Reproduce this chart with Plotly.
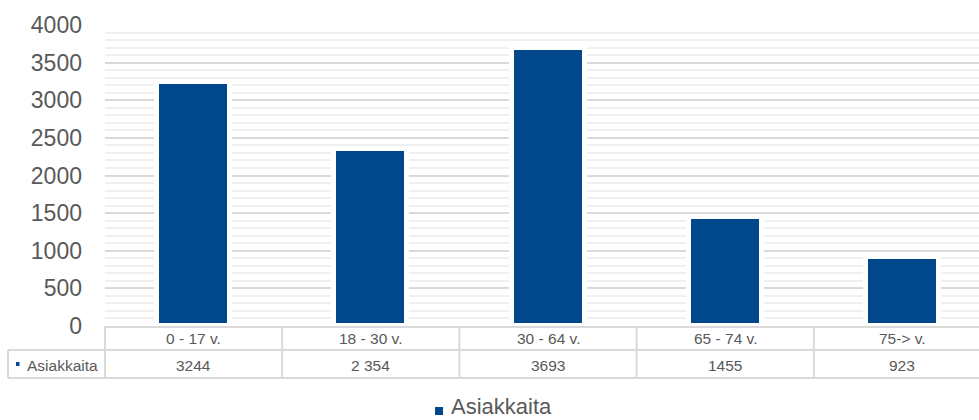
import plotly.graph_objects as go

categories = ["0 - 17 v.", "18 - 30 v.", "30 - 64 v.", "65 - 74 v.", "75-> v."]
values = [3244, 2354, 3693, 1455, 923]
value_labels = ["3244", "2 354", "3693", "1455", "923"]
series_name = "Asiakkaita"
y_ticks = [0, 500, 1000, 1500, 2000, 2500, 3000, 3500, 4000]

W, H = 979, 420
ML, MR, MT, MB = 105, 0, 25, 94
PW, PH = W - ML - MR, H - MT - MB
BAR = "#01478C"
GRID = "#d9d9d9"
TXT = "#595959"
FONT = "Liberation Sans, Arial, sans-serif"
CAT_PX = 177.2  # pixel width per category


def px(xp):
    return (xp - ML) / PW


def py(yp):
    return (H - MB - yp) / PH


fig = go.Figure()
fig.add_trace(go.Bar(
    x=categories, y=values, name=series_name,
    marker=dict(color=BAR, line=dict(color="white", width=5)),
    width=(68 + 5) / CAT_PX, showlegend=False, hoverinfo="x+y",
))

shapes = []
annotations = []
line = dict(color=GRID, width=2)
row1_top, row1_bot, row2_bot = 326, 350, 378
# horizontal table lines
for yy in (row1_bot, row2_bot):
    shapes.append(dict(type="line", xref="paper", yref="paper", x0=px(8), x1=1,
                       y0=py(yy), y1=py(yy), line=line))
# vertical lines
shapes.append(dict(type="line", xref="paper", yref="paper", x0=px(8), x1=px(8),
                   y0=py(row1_bot), y1=py(row2_bot), line=line))
shapes.append(dict(type="line", xref="paper", yref="paper", x0=0, x1=0,
                   y0=py(row1_top), y1=py(row2_bot), line=line))
for i in range(len(categories)):
    xb = i + 0.5
    shapes.append(dict(type="line", xref="x", yref="paper", x0=xb, x1=xb,
                       y0=py(row1_top), y1=py(row2_bot), line=line))
# table cells text
for cat, lab in zip(categories, value_labels):
    annotations.append(dict(x=cat, xref="x", y=py(338), yref="paper", text=cat,
                            showarrow=False, xanchor="center", yanchor="middle",
                            font=dict(family=FONT, size=15.5, color=TXT)))
    annotations.append(dict(x=cat, xref="x", y=py(365), yref="paper", text=lab,
                            showarrow=False, xanchor="center", yanchor="middle",
                            font=dict(family=FONT, size=15.5, color=TXT)))
# series name cell with marker
shapes.append(dict(type="rect", xref="paper", yref="paper", x0=px(16), x1=px(19.5),
                   y0=py(366), y1=py(362), fillcolor=BAR, line=dict(width=0)))
annotations.append(dict(x=px(25), xref="paper", y=py(365), yref="paper", text=series_name,
                        showarrow=False, xanchor="left", yanchor="middle",
                        font=dict(family=FONT, size=15.5, color=TXT)))
# legend
shapes.append(dict(type="rect", xref="paper", yref="paper", x0=px(435), x1=px(443),
                   y0=py(415), y1=py(407), fillcolor=BAR, line=dict(width=0)))
annotations.append(dict(x=px(450), xref="paper", y=py(H), yref="paper", text=series_name,
                        showarrow=False, xanchor="left", yanchor="bottom", borderpad=0,
                        font=dict(family=FONT, size=22, color=TXT)))

fig.update_layout(
    width=W, height=H,
    margin=dict(l=ML, r=MR, t=MT, b=MB, pad=0),
    paper_bgcolor="white", plot_bgcolor="white",
    shapes=shapes, annotations=annotations,
    showlegend=False,
    xaxis=dict(type="category", range=[-0.5, -0.5 + PW / CAT_PX], showticklabels=False,
               showgrid=False, zeroline=False, showline=True, linecolor=GRID, linewidth=2,
               ticks="", fixedrange=True),
    yaxis=dict(range=[0, 4000], tickvals=y_ticks, ticks="", showline=False, zeroline=False,
               showgrid=True, gridcolor=GRID, gridwidth=1.5,
               minor=dict(dtick=100, showgrid=True, gridcolor="#f0f0f0", gridwidth=1.5),
               tickfont=dict(family=FONT, size=23, color=TXT), ticklabelstandoff=22,
               fixedrange=True),
    bargap=0,
)

fig.write_html("out.html")
